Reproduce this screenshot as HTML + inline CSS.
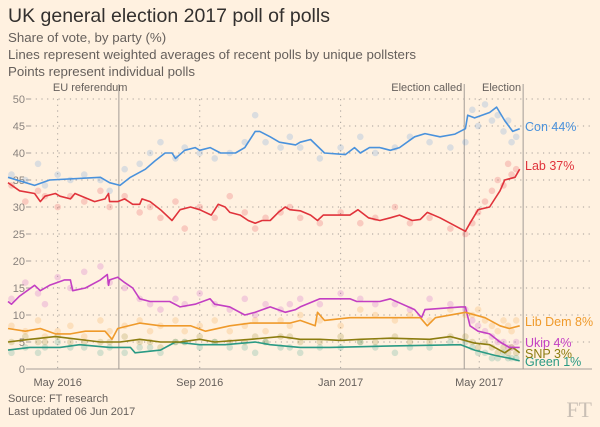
<!DOCTYPE html>
<html><head><meta charset="utf-8"><style>
body{margin:0;background:#fff1e0;}
svg{display:block;font-family:"Liberation Sans",sans-serif;}
</style></head><body>
<svg id="chart" width="600" height="427" viewBox="0 0 600 427">
<rect width="600" height="427" fill="#fff1e0"/>
<text x="8" y="22" font-size="19.5" fill="#33302e">UK general election 2017 poll of polls</text>
<text x="8" y="42" font-size="13.3" fill="#66605c">Share of vote, by party (%)</text>
<text x="8" y="59" font-size="13.3" fill="#66605c">Lines represent weighted averages of recent polls by unique pollsters</text>
<text x="8" y="76" font-size="13.3" fill="#66605c">Points represent individual polls</text>
<g id="grid"></g><g id="pts"></g><g id="lines"></g><g id="labels"></g>
<text x="8" y="402" font-size="11" fill="#66605c">Source: FT research</text>
<text x="8" y="415" font-size="11" fill="#66605c">Last updated 06 Jun 2017</text>
<text x="592" y="417" font-size="22" text-anchor="end" fill="#c9bfb5" font-family="Liberation Serif,serif">FT</text>
</svg>
<script>
// days since 2016-03-19
const yTicks=[0,5,10,15,20,25,30,35,40,45,50];
const monthTicks=[{d:43,t:"May 2016"},{d:166,t:"Sep 2016"},{d:288,t:"Jan 2017"},{d:408,t:"May 2017"}];
const events=[{d:96,t:"EU referendum",a:"end",dx:-3},{d:395,t:"Election called",a:"end",dx:-2},{d:446,t:"Election",a:"end",dx:-2}];
const conDays=[0,23,36,80,88,97,106,119,127,136,142,145,153,162,166,175,184,197,205,214,218,227,235,249,253,262,274,292,300,305,313,322,331,339,352,361,374,387,396,398,404,417,423,430,437,443];
const conVals=[35.5,34,35,35.5,34.5,34,35.5,37,38.5,40,40,39,40.5,41,40.5,41,40,40,41,44,44,43,42,41.5,42,42.5,40,39.7,41,40,41,41,40.5,41,43,43.6,43,43.5,44.5,47,46.5,47.5,48.5,46,44,44.5];
const labDays=[0,10,23,28,32,41,45,54,58,75,84,87,88,95,101,108,114,116,123,132,142,149,158,166,176,182,188,192,201,208,214,220,227,234,240,244,253,262,268,273,296,303,312,322,331,339,350,357,363,374,396,400,407,417,426,430,439,443];
const labVals=[34.5,33,32.5,31,32,32.5,32,31.5,32.5,31,31.5,32.5,31,31,31.5,30.5,30.5,31.5,31,29.5,27.5,29.5,30,29.5,28.5,30.5,30,29,28.5,27.5,27,27.5,27.5,29,30,29.5,29.3,28.5,27.5,28.5,28.5,29.5,28,27.5,28,28.5,27.5,27.7,29,28,25.5,27,29.5,30,33,35,35.5,37];
const ukipDays=[0,3,10,23,28,36,49,54,56,67,80,86,87,88,95,101,108,114,123,140,149,162,175,179,192,205,214,227,240,249,253,270,296,302,322,331,352,358,361,392,396,400,407,417,426,434,443];
const ukipVals=[12.5,12,13.5,15.5,14.5,15.5,16.5,16.5,14.5,15,16.5,17.5,15.5,16.5,17,16,15,13,12.5,12.5,11.5,12,13,12,11.5,10,10.5,11.5,10.5,11,11.5,13,13,12.5,12.5,13,11,9.5,11,11.5,11.5,8,7,6.5,5,4,4];
const ldDays=[0,15,28,41,54,67,84,90,95,114,132,145,158,171,192,210,227,244,253,266,268,274,296,313,331,357,363,370,396,413,426,434,443];
const ldVals=[7.5,7,7.5,6.5,6.5,7,7,5.5,7.5,8.5,8,8,8,7,8,8.5,8.5,8.5,9,8,10.5,9,9.5,9.5,9.5,9.5,8,9.5,10.5,9.5,8,7.5,8];
const snpDays=[0,19,41,80,97,114,132,149,166,179,210,236,253,270,288,305,331,365,383,392,404,417,430,437,443];
const snpVals=[5,5.5,6,5,5,5.5,5,5,5.5,5,5.5,6,5.5,5.5,5.3,5.5,5.7,5.5,6,5.5,4.8,4.5,3,4,3];
const greenDays=[0,19,45,62,88,106,110,132,145,166,188,214,227,253,279,339,392,404,422,434,443];
const greenVals=[3.5,4,4,4.5,4,4,3,3.5,5,4.5,4.5,5,4.5,4,4,4.3,4.5,3.5,2.5,2,1.5];
const pollDays=[3,15,26,32,43,54,66,80,88,101,114,123,132,145,153,166,179,192,205,214,223,236,244,253,270,288,305,318,335,348,365,383,396,402,407,413,419,424,429,433,436,440];
const pollCon=[36,35,38,34,36,35,36,35,33,37,38,40,42,39,41,40,39,40,42,47,42,41,43,41,39,41,43,40,41,43,42,41,42,48,45,49,46,47,44,46,42,43];
const pollLab=[34,31,33,32,30,32,31,33,30,32,29,30,28,31,26,30,28,32,29,26,28,29,30,28,27,29,27,28,30,27,28,26,25,27,29,31,33,35,34,38,36,37];
const pollUkip=[13,16,14,12,17,15,18,19,16,15,13,12,11,13,12,14,12,11,13,10,12,11,12,13,12,14,13,12,12,11,13,12,11,9,8,7,6,5,5,4,4,5];
const pollLd=[8,7,9,6,7,8,6,9,7,8,9,7,8,9,7,8,9,7,8,9,7,9,8,10,9,8,11,10,9,10,9,11,10,10,11,9,8,7,9,8,7,9];
const pollSnp=[5,6,5,5,6,5,5,5,5,6,5,5,4,5,5,6,5,5,5,6,5,6,6,5,5,6,5,5,6,5,5,6,6,5,4,5,4,3,4,3,4,3];
const pollGreen=[3,4,3,4,5,4,4,3,4,3,4,4,3,5,5,4,5,4,4,3,5,4,4,3,4,4,5,4,3,4,4,5,5,4,3,3,2,2,3,2,2,2];

const NS="http://www.w3.org/2000/svg";
const X=d=>8+d*1.155, Y=v=>369-v*5.4;
function mk(tag,attrs,parent){const e=document.createElementNS(NS,tag);for(const k in attrs)e.setAttribute(k,attrs[k]);parent.appendChild(e);return e;}
const grid=document.getElementById('grid'),pts=document.getElementById('pts'),lines=document.getElementById('lines'),labels=document.getElementById('labels');
yTicks.forEach(v=>{
  if(v>0){const g=mk('line',{x1:30,x2:592,y1:Y(v),y2:Y(v),stroke:'#a7a09a','stroke-width':1,'stroke-dasharray':'1.2,4.5'},grid);
  
  }
  const tk=mk('line',{x1:26,x2:30,y1:Y(v),y2:Y(v),stroke:'#a7a09a'},grid);
  
  
  const t=mk('text',{x:25,y:Y(v)+4,'text-anchor':'end','font-size':11,fill:'#8a837e'},grid);t.textContent=v;
  
  
});
const ax=mk('line',{x1:26,x2:592,y1:Y(0),y2:Y(0),stroke:'#a7a09a'},grid);


monthTicks.forEach(m=>{
  const g=mk('line',{x1:X(m.d),x2:X(m.d),y1:Y(50),y2:Y(0),stroke:'#a7a09a','stroke-dasharray':'1.2,4.5'},grid);
  
  
  const t=mk('text',{x:X(m.d),y:386,'text-anchor':'middle','font-size':11,fill:'#66605c'},grid);t.textContent=m.t;
  
  
});
events.forEach(e=>{
  const l=mk('line',{x1:X(e.d),x2:X(e.d),y1:84,y2:Y(0),stroke:'#a39c96','stroke-width':1},grid);
  
  
  const anchor=e.t==="EU referendum"?"start":"end";
  const tx=e.t==="EU referendum"?X(e.d)-66:X(e.d)+e.dx;
  const t=mk('text',{x:tx,y:91,'text-anchor':anchor,'font-size':11,fill:'#66605c'},grid);t.textContent=e.t;
  
  
});
const series=[
 {n:'con',c:'#4a92dc',d:conDays,v:conVals,p:pollCon,lab:'Con 44%',ly:131},
 {n:'lab',c:'#e0333b',d:labDays,v:labVals,p:pollLab,lab:'Lab 37%',ly:170},
 {n:'lib-dem',c:'#ef9a2b',d:ldDays,v:ldVals,p:pollLd,lab:'Lib Dem 8%',ly:326},
 {n:'ukip',c:'#c33fc3',d:ukipDays,v:ukipVals,p:pollUkip,lab:'Ukip 4%',ly:347},
 {n:'snp',c:'#8c7d10',d:snpDays,v:snpVals,p:pollSnp,lab:'SNP 3%',ly:358},
 {n:'green',c:'#2a9a84',d:greenDays,v:greenVals,p:pollGreen,lab:'Green 1%',ly:366}
];
series.forEach(s=>{
  const n=Math.min(pollDays.length,s.p.length);
  for(let i=0;i<n;i++){
    const c=mk('circle',{cx:X(pollDays[i]),cy:Y(s.p[i]),r:3.3,fill:s.c,'fill-opacity':0.2},pts);
    
    
  }
});
series.slice().reverse().forEach(s=>{
  const dd=s.d.map((d,i)=>(i?'L':'M')+X(d).toFixed(1)+','+Y(s.v[i]).toFixed(1)).join('');
  const p=mk('path',{d:dd,fill:'none',stroke:s.c,'stroke-width':1.6,'stroke-linejoin':'round'},lines);
  
  
  const t=mk('text',{x:525,y:s.ly,'font-size':12.5,fill:s.c},labels);t.textContent=s.lab;
  
  
});
</script>
</body></html>
